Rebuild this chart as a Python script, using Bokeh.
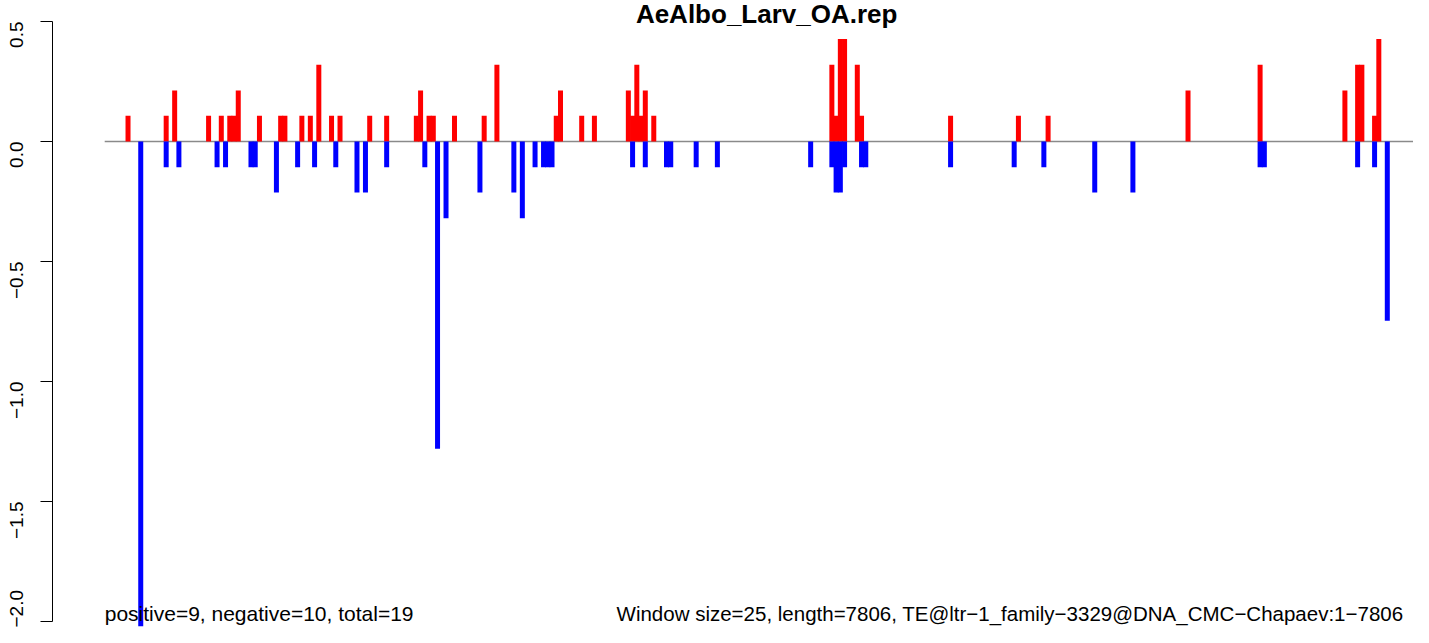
import math
from bokeh.plotting import figure
from bokeh.models import Range1d, FixedTicker, CustomJSTickFormatter, ColumnDataSource
from bokeh.embed import file_html
from bokeh.resources import INLINE
from bokeh.core.properties import value

# ---------------- data ----------------
title_text = "AeAlbo_Larv_OA.rep"
left_note = "positive=9, negative=10, total=19"
right_note = "Window size=25, length=7806, TE@ltr\u22121_family\u22123329@DNA_CMC\u2212Chapaev:1\u22127806"
window_size = 25
seq_length = 7806

# window index (window start = index * window_size) and value
pos_window = [5, 14, 16, 24, 27, 29, 30, 31, 36, 41, 42, 46, 48, 50, 53, 55, 62, 66,
              73, 74, 76, 77, 82, 89, 92, 106, 107, 112, 115, 123, 124, 125, 126, 127,
              129, 171, 172, 173, 174, 177, 178, 199, 215, 222, 255, 272, 292, 295, 296,
              299, 300]
pos_value = [0.107, 0.107, 0.213, 0.107, 0.107, 0.107, 0.107, 0.213, 0.107, 0.107, 0.107,
             0.107, 0.107, 0.320, 0.107, 0.107, 0.107, 0.107,
             0.107, 0.213, 0.107, 0.107, 0.107, 0.107, 0.320, 0.107, 0.213, 0.107, 0.107,
             0.213, 0.107, 0.320, 0.107, 0.213,
             0.107, 0.320, 0.107, 0.427, 0.427, 0.320, 0.107, 0.107, 0.107, 0.107, 0.213,
             0.320, 0.213, 0.320, 0.320,
             0.107, 0.427]

neg_window = [8, 14, 17, 26, 28, 34, 35, 40, 45, 49, 54, 59, 61, 66, 75, 78, 80, 88, 96,
              98, 101, 103, 104, 105, 124, 127, 132, 133, 139, 144, 166, 171, 172, 173,
              174, 178, 179, 199, 214, 221, 233, 242, 272, 273, 295, 299, 302]
neg_value = [-2.02, -0.107, -0.107, -0.107, -0.107, -0.107, -0.107, -0.213, -0.107, -0.107,
             -0.107, -0.213, -0.213, -0.107, -0.107, -1.280, -0.320, -0.213, -0.213,
             -0.320, -0.107, -0.107, -0.107, -0.107, -0.107, -0.107, -0.107, -0.107,
             -0.107, -0.107, -0.107, -0.107, -0.213, -0.213,
             -0.107, -0.107, -0.107, -0.107, -0.107, -0.107, -0.213, -0.213, -0.107,
             -0.107, -0.107, -0.107, -0.747]

y_ticks = [-2.0, -1.5, -1.0, -0.5, 0.0, 0.5]

# ---------------- layout ----------------
W, H = 1413, 627
frame_left = 52
px_per_bp = 0.1696
zero_bp_px = 104.2         # canvas x of position 0
px_per_unit = 240.0
zero_val_px = 141.0        # canvas y of value 0

x_start = -(zero_bp_px - frame_left) / px_per_bp
x_end = x_start + (W - frame_left) / px_per_bp
y_end = zero_val_px / px_per_unit
y_start = -(H - zero_val_px) / px_per_unit

p = figure(width=W, height=H, output_backend="svg", toolbar_location=None,
           x_range=Range1d(x_start, x_end), y_range=Range1d(y_start, y_end),
           x_axis_location=None, y_axis_location="left")
p.min_border_left = frame_left
p.min_border_right = 0
p.min_border_top = 0
p.min_border_bottom = 0
p.outline_line_color = None
p.background_fill_color = "white"
p.border_fill_color = "white"
p.ygrid.visible = False
p.xgrid.visible = False

ax = p.yaxis[0]
ax.ticker = FixedTicker(ticks=y_ticks)
ax.formatter = CustomJSTickFormatter(code="return (tick < 0 ? '\u2212' : '') + Math.abs(tick).toFixed(1);")
ax.bounds = (-2.0, 0.5)
ax.major_tick_out = 12
ax.major_tick_in = 0
ax.minor_tick_out = 0
ax.minor_tick_in = 0
ax.axis_line_color = "black"
ax.axis_line_width = 1
ax.major_tick_line_color = "black"
ax.major_label_orientation = math.pi / 2
ax.major_label_text_font = "Liberation Sans"
ax.major_label_text_font_size = "19px"
ax.major_label_text_color = "black"
ax.major_label_standoff = 24

pos_src = ColumnDataSource(dict(
    x=[(w + 0.5) * window_size for w in pos_window], top=pos_value))
neg_src = ColumnDataSource(dict(
    x=[(w + 0.5) * window_size for w in neg_window], bottom=neg_value))

bar_w = 5 / px_per_bp
p.segment(x0=[0], y0=[0], x1=[seq_length], y1=[0], line_color="#8a8a8a", line_width=1.5)
p.vbar(x="x", top="top", bottom=0, width=bar_w, source=pos_src,
       fill_color="#ff0000", line_color=None)
p.vbar(x="x", top=0, bottom="bottom", width=bar_w, source=neg_src,
       fill_color="#0000ff", line_color=None)

txt_y = -(613 - zero_val_px) / px_per_unit
p.text(x=[0], y=[txt_y], text=[left_note], text_font=value("Liberation Sans"),
       text_font_size="21px", text_align="left", text_baseline="alphabetic",
       text_color="black")
p.text(x=[3018], y=[txt_y], text=[right_note], text_font=value("Liberation Sans"),
       text_font_size="20.5px", text_align="left", text_baseline="alphabetic",
       text_color="black")
title_y = (zero_val_px - 13) / px_per_unit
p.text(x=[seq_length / 2], y=[title_y], text=[title_text], text_font=value("Liberation Sans"),
       text_font_size="26px", text_font_style="bold", text_align="center",
       text_baseline="alphabetic", text_color="black")

open("out.html", "w").write(file_html(p, INLINE))
